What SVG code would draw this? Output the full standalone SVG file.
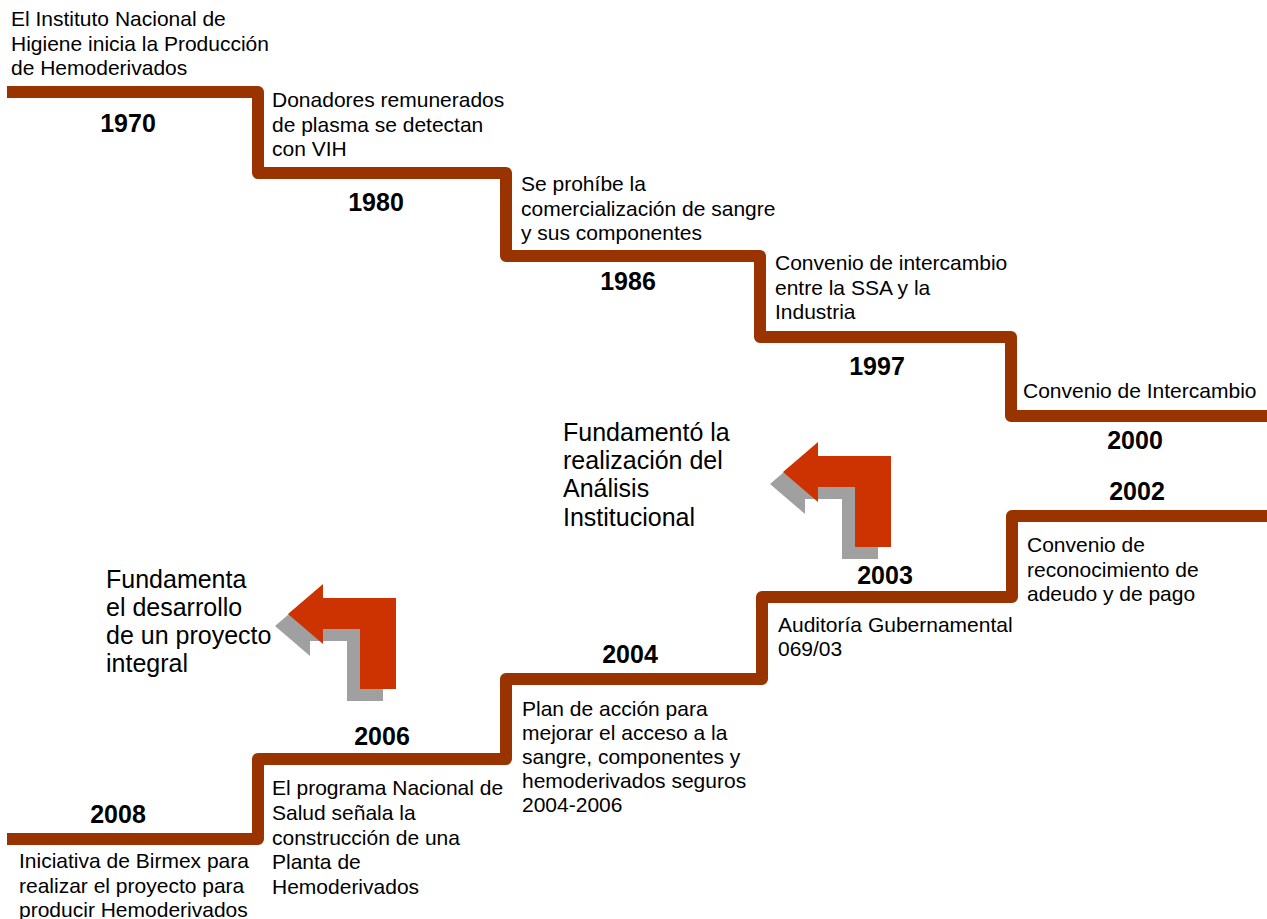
<svg xmlns="http://www.w3.org/2000/svg" width="1267" height="919" viewBox="0 0 1267 919">
<style>
.t{font-family:"Liberation Sans",Arial,sans-serif;font-size:21px;fill:#000}
.b{font-family:"Liberation Sans",Arial,sans-serif;font-size:25px;font-weight:bold;fill:#000;text-anchor:middle}
.g{font-family:"Liberation Sans",Arial,sans-serif;font-size:25px;fill:#000}
.stair{fill:none;stroke:#993300;stroke-width:12;stroke-linejoin:round}
.red{fill:#CC3300}
.gray{fill:#A0A0A0}
</style>
<defs>
<path id="arw" d="M783,472 L818,442 L818,456 L891,456 L891,547 L855,547 L855,487 L818,487 L818,502 Z"/>
</defs>
<rect width="1267" height="919" fill="#fff"/>
<g id="connectors">
<polyline class="stair" points="7,92 258,92 258,173 506,173 506,256 760,256 760,337 1011,337 1011,416 1267,416"/>
<polyline class="stair" points="7,839 258,839 258,759 506,759 506,679 762,679 762,597 1012,597 1012,516 1267,516"/>
</g>
<g id="arrow1">
<use href="#arw" class="gray" transform="translate(-13,12)"/>
<use href="#arw" class="red"/>
</g>
<g id="arrow2">
<use href="#arw" class="gray" transform="translate(-508,154)"/>
<use href="#arw" class="red" transform="translate(-495,142)"/>
</g>
<g id="n1970">
<text class="t" x="11" y="26">El Instituto Nacional de</text>
<text class="t" x="11" y="51">Higiene inicia la Producción</text>
<text class="t" x="11" y="75">de Hemoderivados</text>
<text class="b" x="128" y="132">1970</text>
</g>
<g id="n1980">
<text class="t" x="272" y="107">Donadores remunerados</text>
<text class="t" x="272" y="132">de plasma se detectan</text>
<text class="t" x="272" y="156">con VIH</text>
<text class="b" x="376" y="211">1980</text>
</g>
<g id="n1986">
<text class="t" x="521" y="191">Se prohíbe la</text>
<text class="t" x="521" y="216">comercialización de sangre</text>
<text class="t" x="521" y="240">y sus componentes</text>
<text class="b" x="628" y="290">1986</text>
</g>
<g id="n1997">
<text class="t" x="775" y="270">Convenio de intercambio</text>
<text class="t" x="775" y="295">entre la SSA y la</text>
<text class="t" x="775" y="319">Industria</text>
<text class="b" x="877" y="375">1997</text>
</g>
<g id="n2000">
<text class="t" x="1023" y="398">Convenio de Intercambio</text>
<text class="b" x="1135" y="449">2000</text>
</g>
<g id="n2002">
<text class="b" x="1137" y="500">2002</text>
<text class="t" x="1027" y="552">Convenio de</text>
<text class="t" x="1027" y="577">reconocimiento de</text>
<text class="t" x="1027" y="601">adeudo y de pago</text>
</g>
<g id="n2003">
<text class="b" x="885" y="584">2003</text>
<text class="t" x="778" y="632">Auditoría Gubernamental</text>
<text class="t" x="778" y="656">069/03</text>
</g>
<g id="n2004">
<text class="b" x="630" y="663">2004</text>
<text class="t" x="522" y="716">Plan de acción para</text>
<text class="t" x="522" y="740">mejorar el acceso a la</text>
<text class="t" x="522" y="764">sangre, componentes y</text>
<text class="t" x="522" y="788">hemoderivados seguros</text>
<text class="t" x="522" y="812">2004-2006</text>
</g>
<g id="n2006">
<text class="b" x="382" y="745">2006</text>
<text class="t" x="272" y="795">El programa Nacional de</text>
<text class="t" x="272" y="820">Salud señala la</text>
<text class="t" x="272" y="845">construcción de una</text>
<text class="t" x="272" y="869">Planta de</text>
<text class="t" x="272" y="894">Hemoderivados</text>
</g>
<g id="n2008">
<text class="b" x="118" y="823">2008</text>
<text class="t" x="19" y="868">Iniciativa de Birmex para</text>
<text class="t" x="19" y="893">realizar el proyecto para</text>
<text class="t" x="19" y="917">producir Hemoderivados</text>
</g>
<g id="note1">
<text class="g" x="563" y="441">Fundamentó la</text>
<text class="g" x="563" y="469">realización del</text>
<text class="g" x="563" y="497">Análisis</text>
<text class="g" x="563" y="526">Institucional</text>
</g>
<g id="note2">
<text class="g" x="106" y="588">Fundamenta</text>
<text class="g" x="106" y="616">el desarrollo</text>
<text class="g" x="106" y="644">de un proyecto</text>
<text class="g" x="106" y="672">integral</text>
</g>
</svg>
